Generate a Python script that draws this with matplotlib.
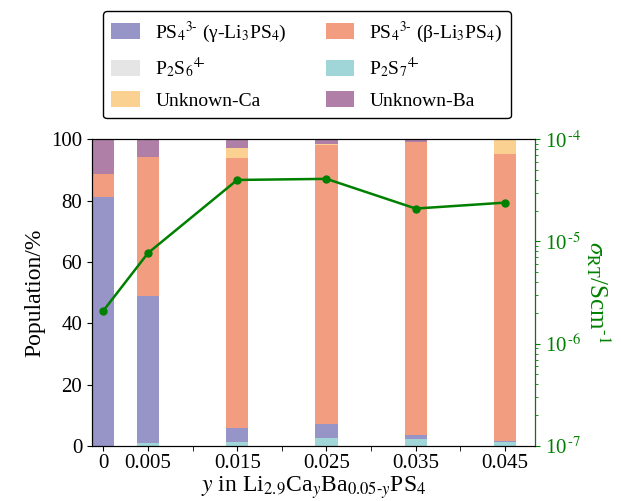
import numpy as np
import matplotlib
matplotlib.use('Agg')
import matplotlib.pyplot as plt

plt.rcParams['font.family'] = ['Liberation Serif', 'DejaVu Serif']
plt.rcParams['mathtext.fontset'] = 'stix'

# composition y
x = [0, 0.005, 0.015, 0.025, 0.035, 0.045]
xlabels = ['0', '0.005', '0.015', '0.025', '0.035', '0.045']

# populations in %
p2s7 = [0.0, 1.1, 1.3, 2.6, 2.3, 1.4]
p2s6 = [0.0, 0.0, 0.0, 0.0, 0.0, 0.0]
gamma = [81.2, 47.9, 4.6, 4.6, 1.2, 0.3]
beta = [7.4, 45.1, 87.9, 90.8, 95.6, 93.4]
unk_ca = [0.0, 0.0, 3.5, 0.6, 0.0, 4.9]
unk_ba = [11.4, 5.9, 2.7, 1.4, 0.9, 0.0]

# conductivity S/cm
sigma = [2.1e-6, 7.7e-6, 4.0e-5, 4.1e-5, 2.1e-5, 2.4e-5]

fig, ax = plt.subplots(figsize=(6.21, 5.01), dpi=100)
fig.subplots_adjust(left=0.148, right=0.862, top=0.722, bottom=0.11)

w = 0.0025
series = [
    (gamma, '#9795c8', 'PS$_4$$^{3\\text{-}}$ (γ-Li$_3$PS$_4$)'),
    (beta, '#f29c80', 'PS$_4$$^{3\\text{-}}$ (β-Li$_3$PS$_4$)'),
    (p2s6, '#e5e5e5', 'P$_2$S$_6$$^{4\\text{-}}$'),
    (p2s7, '#a1d6d8', 'P$_2$S$_7$$^{4\\text{-}}$'),
    (unk_ca, '#fbd192', 'Unknown-Ca'),
    (unk_ba, '#b07fa7', 'Unknown-Ba'),
]
order = [3, 2, 0, 1, 4, 5]  # stacking from bottom
bottom = np.zeros(len(x))
handles = {}
for i in order:
    vals, col, lab = series[i]
    b = ax.bar(x, vals, w, bottom=bottom, color=col, label=lab)
    handles[i] = b
    bottom += np.array(vals)

ax.set_xlim(-0.00128, 0.0484)
ax.set_ylim(0, 100)
ax.set_xticks(x)
ax.set_xticklabels(xlabels, fontsize=15)
ax.set_xticks([0.01, 0.02, 0.03, 0.04], minor=True)
ax.tick_params(axis='x', which='minor', length=3.5)
ax.tick_params(axis='x', which='major', pad=2)
ax.tick_params(axis='y', labelsize=15)
ax.set_ylabel('Population/%', fontsize=17)
ax.set_xlabel('$y$ in Li$_{2.9}$Ca$_y$Ba$_{0.05\\text{-}y}$PS$_4$', fontsize=17, labelpad=1)

ax2 = ax.twinx()
ax2.plot(x, sigma, color='green', marker='o', markersize=5, linewidth=1.8)
ax2.set_yscale('log')
ax2.set_ylim(1e-7, 1e-4)
ax2.set_yticks([1e-7, 1e-6, 1e-5, 1e-4])
ax2.set_yticklabels(['10$^{\\,\\text{-}7}$', '10$^{\\,\\text{-}6}$',
                     '10$^{\\,\\text{-}5}$', '10$^{\\,\\text{-}4}$'])
ax2.tick_params(axis='y', which='both', colors='green', labelsize=15)
ax2.spines['right'].set_color('green')
ax2.set_ylabel('$\\sigma_{\\mathrm{RT}}$/Scm$^{\\text{-}1}$', color='green', fontsize=18,
               rotation=270, labelpad=22)

leg_order = [0, 2, 4, 1, 3, 5]
leg = ax.legend([handles[i] for i in leg_order], [series[i][2] for i in leg_order],
                ncol=2, loc='lower center', bbox_to_anchor=(0.485, 1.068),
                borderaxespad=0, fontsize=14, frameon=True, fancybox=True,
                edgecolor='black', framealpha=1, handlelength=1.45,
                handleheight=0.9, labelspacing=0.55, borderpad=0.45,
                columnspacing=2.0)
leg.get_frame().set_linewidth(1.0)

fig.savefig('out.png', dpi=100)
